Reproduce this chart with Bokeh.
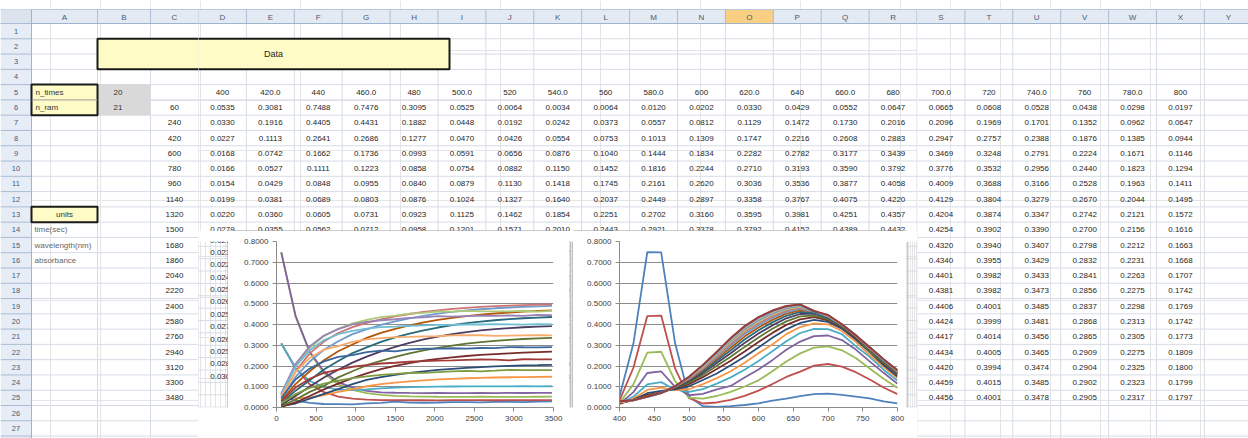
from bokeh.plotting import figure
from bokeh.layouts import column, row
from bokeh.models import Range1d, FixedTicker, NumeralTickFormatter
from bokeh.core.properties import value
from bokeh.embed import file_html
from bokeh.resources import INLINE

# ---------------- data (read from the sheet / charts) ----------------
times = [60, 240, 420, 600, 780, 960, 1140, 1320, 1500, 1680, 1860, 2040,
         2220, 2400, 2580, 2760, 2940, 3120, 3300, 3480]
wavelengths = [400, 420, 440, 460, 480, 500, 520, 540, 560, 580, 600,
               620, 640, 660, 680, 700, 720, 740, 760, 780, 800]
wavelength_labels = ["400", "420.0", "440", "460.0", "480", "500.0", "520", "540.0",
                     "560", "580.0", "600", "620.0", "640", "660.0", "680", "700.0",
                     "720", "740.0", "760", "780.0", "800"]

a400 = [0.0535, 0.0330, 0.0227, 0.0168, 0.0166, 0.0154, 0.0199, 0.0220, 0.0279, 0.0236,
        0.0228, 0.0241, 0.0257, 0.0262, 0.0251, 0.0274, 0.0268, 0.0259, 0.0281, 0.0302]
a420 = [0.3081, 0.1916, 0.1113, 0.0742, 0.0527, 0.0429, 0.0381, 0.0360, 0.0355, 0.0349,
        0.0352, 0.0347, 0.0355, 0.0351, 0.0358, 0.0349, 0.0356, 0.0353, 0.0360, 0.0357]
a440 = [0.7488, 0.4405, 0.2641, 0.1662, 0.1111, 0.0848, 0.0689, 0.0605, 0.0562, 0.0538,
        0.0527, 0.0519, 0.0515, 0.0512, 0.0518, 0.0510, 0.0516, 0.0513, 0.0519, 0.0521]
a460 = [0.7476, 0.4431, 0.2686, 0.1736, 0.1223, 0.0955, 0.0803, 0.0731, 0.0712, 0.0701,
        0.0694, 0.0699, 0.0692, 0.0697, 0.0702, 0.0695, 0.0701, 0.0698, 0.0704, 0.0700]
a480 = [0.3095, 0.1882, 0.1277, 0.0993, 0.0858, 0.0840, 0.0876, 0.0923, 0.0958, 0.0981,
        0.0994, 0.1005, 0.1012, 0.1019, 0.1015, 0.1022, 0.1018, 0.1025, 0.1021, 0.1024]
a500 = [0.0525, 0.0448, 0.0470, 0.0591, 0.0754, 0.0879, 0.1024, 0.1125, 0.1201, 0.1262,
        0.1310, 0.1354, 0.1382, 0.1410, 0.1427, 0.1445, 0.1458, 0.1466, 0.1475, 0.1481]
a520 = [0.0064, 0.0192, 0.0426, 0.0656, 0.0882, 0.1130, 0.1327, 0.1462, 0.1571, 0.1668,
        0.1745, 0.1812, 0.1866, 0.1913, 0.1950, 0.1981, 0.2006, 0.2027, 0.2041, 0.2056]
a540 = [0.0034, 0.0242, 0.0554, 0.0876, 0.1150, 0.1418, 0.1640, 0.1854, 0.2010, 0.2142,
        0.2254, 0.2342, 0.2418, 0.2481, 0.2534, 0.2577, 0.2612, 0.2641, 0.2665, 0.2688]
a560 = [0.0064, 0.0373, 0.0753, 0.1040, 0.1452, 0.1745, 0.2037, 0.2251, 0.2443, 0.2610,
        0.2752, 0.2877, 0.2985, 0.3074, 0.3150, 0.3212, 0.3263, 0.3301, 0.3332, 0.3356]
a580 = [0.0120, 0.0557, 0.1013, 0.1444, 0.1816, 0.2161, 0.2449, 0.2702, 0.2921, 0.3113,
        0.3278, 0.3418, 0.3536, 0.3634, 0.3713, 0.3777, 0.3828, 0.3868, 0.3899, 0.3925]
a600 = [0.0202, 0.0812, 0.1309, 0.1834, 0.2244, 0.2620, 0.2897, 0.3160, 0.3378, 0.3565,
        0.3722, 0.3855, 0.3968, 0.4062, 0.4139, 0.4204, 0.4257, 0.4301, 0.4335, 0.4362]
a620 = [0.0330, 0.1129, 0.1747, 0.2282, 0.2710, 0.3036, 0.3358, 0.3595, 0.3792, 0.3958,
        0.4101, 0.4221, 0.4322, 0.4405, 0.4474, 0.4531, 0.4578, 0.4617, 0.4650, 0.4676]
a640 = [0.0429, 0.1472, 0.2216, 0.2782, 0.3193, 0.3536, 0.3767, 0.3981, 0.4152, 0.4298,
        0.4420, 0.4522, 0.4606, 0.4676, 0.4734, 0.4782, 0.4820, 0.4851, 0.4876, 0.4895]
a660 = [0.0552, 0.1730, 0.2608, 0.3177, 0.3590, 0.3877, 0.4075, 0.4251, 0.4389, 0.4506,
        0.4603, 0.4683, 0.4749, 0.4803, 0.4848, 0.4884, 0.4913, 0.4937, 0.4956, 0.4971]
a680 = [0.0647, 0.2016, 0.2883, 0.3439, 0.3792, 0.4058, 0.4220, 0.4357, 0.4432, 0.4527,
        0.4563, 0.4627, 0.4623, 0.4658, 0.4630, 0.4634, 0.4629, 0.4663, 0.4622, 0.4654]
a700 = [0.0665, 0.2096, 0.2947, 0.3469, 0.3776, 0.4009, 0.4129, 0.4204, 0.4254, 0.4320,
        0.4340, 0.4401, 0.4381, 0.4406, 0.4424, 0.4417, 0.4434, 0.4420, 0.4459, 0.4456]
a720 = [0.0608, 0.1969, 0.2757, 0.3248, 0.3532, 0.3688, 0.3804, 0.3874, 0.3902, 0.3940,
        0.3955, 0.3982, 0.3982, 0.4001, 0.3999, 0.4014, 0.4005, 0.3994, 0.4015, 0.4001]
a740 = [0.0528, 0.1701, 0.2388, 0.2791, 0.2956, 0.3166, 0.3279, 0.3347, 0.3390, 0.3407,
        0.3429, 0.3433, 0.3473, 0.3485, 0.3481, 0.3456, 0.3465, 0.3474, 0.3485, 0.3478]
a760 = [0.0438, 0.1352, 0.1876, 0.2224, 0.2440, 0.2528, 0.2670, 0.2742, 0.2700, 0.2798,
        0.2832, 0.2841, 0.2856, 0.2837, 0.2868, 0.2865, 0.2909, 0.2904, 0.2902, 0.2905]
a780 = [0.0298, 0.0962, 0.1385, 0.1671, 0.1823, 0.1963, 0.2044, 0.2121, 0.2156, 0.2212,
        0.2231, 0.2263, 0.2275, 0.2298, 0.2313, 0.2305, 0.2275, 0.2325, 0.2323, 0.2317]
a800 = [0.0197, 0.0647, 0.0944, 0.1146, 0.1294, 0.1411, 0.1495, 0.1572, 0.1616, 0.1663,
        0.1668, 0.1707, 0.1742, 0.1769, 0.1742, 0.1773, 0.1809, 0.1800, 0.1799, 0.1797]

columns_by_wl = [a400, a420, a440, a460, a480, a500, a520, a540, a560, a580, a600,
                 a620, a640, a660, a680, a700, a720, a740, a760, a780, a800]

unit_labels = ["time(sec)", "wavelength(nm)", "absorbance"]
y_ticks = [0.0, 0.1, 0.2, 0.3, 0.4, 0.5, 0.6, 0.7, 0.8]
t_ticks = [0, 500, 1000, 1500, 2000, 2500, 3000, 3500]
wl_ticks = [400, 450, 500, 550, 600, 650, 700, 750, 800]

n_times = len(times)
n_ram = len(wavelengths)

# Excel 2007 series colours
palette = ["#4F81BD", "#C0504D", "#9BBB59", "#8064A2", "#4BACC6", "#F79646",
           "#2C4D75", "#772C2A", "#5F7530", "#4D3B62", "#276A7C", "#B65708",
           "#729ACA", "#CD7371", "#AFC97A", "#9983B5", "#6FBDD1", "#F9AB6B",
           "#3A679C", "#9F3B38", "#7E9D40"]

FONT_NAME = "Liberation Sans"
FONT = value(FONT_NAME)

# ---------------- sheet geometry (screenshot pixels) ----------------
W, H = 1248, 438
HDR_TOP, HDR_BOT = 9.0, 23.0
ROW_H = 15.28
ROWHDR_W = 31.0
COL_W = 47.9
D_LEFT = 198.0
col_edges = [ROWHDR_W, 97.0, 150.0, D_LEFT] + [D_LEFT + COL_W * i for i in range(1, 24)]
col_letters = [chr(ord("A") + i) for i in range(len(col_edges) - 1)]
col_mid = [(col_edges[i] + col_edges[i + 1]) / 2 for i in range(len(col_edges) - 1)]
N_ROWS = 29
DATA_BOX_R = 449.0

C1_L, C1_R, C2_L, C2_R = 228, 569, 573, 906
C_TOP, C_BOT = 231, 436
M_L, M_R = int(D_LEFT), 917

NUM_SIZE = "8px"
NUM_COLOR = "#262626"


def row_top(k):
    return HDR_BOT + (k - 1) * ROW_H


def row_mid(k):
    return row_top(k) + ROW_H / 2


def sheet_texts():
    t = []  # x, y, text, align, color, size
    for i, L in enumerate(col_letters):
        t.append((col_mid[i], (HDR_TOP + HDR_BOT) / 2 + 0.5, L, "center", "#4a5a72", "8px"))
    for k in range(1, N_ROWS):
        t.append((ROWHDR_W / 2, row_mid(k), str(k), "center", "#4a5a72", "7.5px"))
    t.append(((col_edges[1] + DATA_BOX_R) / 2, row_top(3), "Data", "center", "#262626", "9px"))
    t.append((col_edges[0] + 4, row_mid(5), "n_times", "left", "#333333", "8px"))
    t.append((col_edges[0] + 4, row_mid(6), "n_ram", "left", "#333333", "8px"))
    t.append((col_edges[1] + 16, row_mid(5), str(n_times), "left", "#333333", "8px"))
    t.append((col_edges[1] + 16, row_mid(6), str(n_ram), "left", "#333333", "8px"))
    t.append((col_mid[0], row_mid(13), "units", "center", "#333333", "8px"))
    for j, s in enumerate(unit_labels):
        t.append((col_edges[0] + 3, row_mid(14 + j), s, "left", "#666666", "8px"))
    for j, s in enumerate(wavelength_labels):
        t.append((col_mid[3 + j], row_mid(5), s, "center", NUM_COLOR, NUM_SIZE))
    for i, tm in enumerate(times):
        t.append((col_mid[2], row_mid(6 + i), str(tm), "center", NUM_COLOR, NUM_SIZE))
        for j, colv in enumerate(columns_by_wl):
            t.append((col_mid[3 + j], row_mid(6 + i), f"{colv[i]:.4f}", "center", NUM_COLOR, NUM_SIZE))
    return t


TEXTS = sheet_texts()
BORDER = "#9a9a9a"


def text_box(t):
    size = float(t[5].replace("px", ""))
    w = len(t[2]) * 0.56 * size
    x0 = t[0] - w / 2 if t[3] == "center" else t[0]
    return x0, x0 + w, t[1] - size * 0.5, t[1] + size * 0.5


def visible_in(t, xa, xb, ya, yb):
    x0, x1, y0, y1 = text_box(t)
    return x1 > xa and x0 < xb and y1 > ya and y0 < yb


def sheet(xa, xb, ya, yb, borders_v=(), border_h=None):
    p = figure(width=int(round(xb - xa)), height=int(round(yb - ya)),
               x_range=Range1d(xa, xb), y_range=Range1d(yb, ya),
               output_backend="svg", toolbar_location=None,
               x_axis_location=None, y_axis_location=None,
               min_border_left=0, min_border_right=0, min_border_top=0, min_border_bottom=0)
    p.outline_line_color = None
    p.background_fill_color = "white"
    p.border_fill_color = "white"
    ys = [row_top(k) for k in range(1, N_ROWS + 1)]
    p.segment(x0=[ROWHDR_W] * len(ys), x1=[W + 2] * len(ys), y0=ys, y1=ys,
              line_color="#d6dce6", line_width=1)
    xs = col_edges[1:]
    p.segment(x0=xs, x1=xs, y0=[HDR_BOT] * len(xs), y1=[H + 10] * len(xs),
              line_color="#d6dce6", line_width=1)
    p.quad(left=[ROWHDR_W], right=[W + 2], top=[HDR_TOP], bottom=[HDR_BOT],
           fill_color="#e3eaf4", line_color=None)
    o = col_letters.index("O")
    p.quad(left=[col_edges[o]], right=[col_edges[o + 1]], top=[HDR_TOP], bottom=[HDR_BOT],
           fill_color="#f8cf83", line_color=None)
    p.segment(x0=xs, x1=xs, y0=[HDR_TOP] * len(xs), y1=[HDR_BOT] * len(xs),
              line_color="#a9bcd3", line_width=1)
    p.segment(x0=[0], x1=[W + 2], y0=[HDR_BOT], y1=[HDR_BOT], line_color="#9eb3cc", line_width=1)
    p.segment(x0=[0], x1=[W + 2], y0=[HDR_TOP], y1=[HDR_TOP], line_color="#b8c8dc", line_width=1)
    p.quad(left=[0], right=[ROWHDR_W], top=[HDR_BOT], bottom=[H + 10],
           fill_color="#e6edf7", line_color=None)
    p.quad(left=[0], right=[ROWHDR_W], top=[HDR_TOP], bottom=[HDR_BOT],
           fill_color="#dbe3ee", line_color=None)
    p.segment(x0=[0] * len(ys), x1=[ROWHDR_W] * len(ys), y0=ys, y1=ys,
              line_color="#a9bcd3", line_width=1)
    p.segment(x0=[ROWHDR_W], x1=[ROWHDR_W], y0=[HDR_TOP], y1=[H + 10], line_color="#9eb3cc", line_width=1)
    p.quad(left=[col_edges[1]], right=[DATA_BOX_R], top=[row_top(2)], bottom=[row_top(4)],
           fill_color="#fffbc6", line_color="#1a1a1a", line_width=2)
    p.quad(left=[col_edges[1]], right=[col_edges[2]], top=[row_top(5)], bottom=[row_top(7)],
           fill_color="#d9d9d9", line_color=None)
    p.quad(left=[col_edges[0]], right=[col_edges[1]], top=[row_top(5)], bottom=[row_top(7)],
           fill_color="#fffbc6", line_color="#1a1a1a", line_width=2)
    p.segment(x0=[col_edges[0]], x1=[col_edges[1]], y0=[row_top(6)], y1=[row_top(6)],
              line_color="#9a9a9a", line_width=1)
    p.quad(left=[col_edges[0]], right=[col_edges[1]], top=[row_top(13)], bottom=[row_top(14)],
           fill_color="#fffbc6", line_color="#1a1a1a", line_width=2)
    sel = [t for t in TEXTS if visible_in(t, xa, xb, ya, yb)]
    for align in ("left", "center"):
        for size in ("7.5px", "8px", "9px"):
            ss = [t for t in sel if t[3] == align and t[5] == size]
            if not ss:
                continue
            p.text(x=[t[0] for t in ss], y=[t[1] for t in ss], text=[t[2] for t in ss],
                   text_color=[t[4] for t in ss], text_align=align, text_baseline="middle",
                   text_font=FONT, text_font_size=size)
    for bx in borders_v:
        p.segment(x0=[bx], x1=[bx], y0=[C_TOP], y1=[C_BOT], line_color=BORDER, line_width=1)
    if border_h is not None:
        p.segment(x0=[C1_L, C2_L], x1=[C1_R, C2_R], y0=[border_h, border_h], y1=[border_h, border_h],
                  line_color=BORDER, line_width=1)
    return p


def chart(width, xr, xticks, bl, br):
    p = figure(width=width, height=C_BOT - C_TOP, x_range=Range1d(*xr), y_range=Range1d(0, 0.8),
               output_backend="svg", toolbar_location=None,
               min_border_left=bl, min_border_right=br, min_border_top=10, min_border_bottom=29)
    p.background_fill_color = "white"
    p.border_fill_color = "white"
    p.outline_line_color = None
    p.xgrid.visible = False
    p.yaxis.ticker = FixedTicker(ticks=y_ticks)
    p.ygrid.ticker = FixedTicker(ticks=y_ticks)
    p.ygrid.grid_line_color = "#8c8c8c"
    p.ygrid.grid_line_width = 1
    p.yaxis.formatter = NumeralTickFormatter(format="0.0000")
    p.xaxis.ticker = FixedTicker(ticks=xticks)
    for ax in (p.xaxis[0], p.yaxis[0]):
        ax.axis_line_color = "#8c8c8c"
        ax.major_tick_line_color = "#8c8c8c"
        ax.minor_tick_line_color = None
        ax.major_tick_out = 4
        ax.major_tick_in = 0
        ax.major_label_text_font = FONT_NAME
        ax.major_label_text_font_size = "8px"
        ax.major_label_text_color = "#404040"
        ax.major_label_standoff = 4
    return p


p1 = chart(C1_R - C1_L, (0, 3500), t_ticks, 48, 16)
for j, colv in enumerate(columns_by_wl):
    p1.line(times, colv, line_color=palette[j % len(palette)], line_width=1.8)

p2 = chart(C2_R - C2_L, (400, 800), wl_ticks, 46, 9)
for i in range(n_times):
    spectrum = [colv[i] for colv in columns_by_wl]
    p2.line(wavelengths, spectrum, line_color=palette[i % len(palette)], line_width=1.8)

left_piece = sheet(0, M_L, 0, H)
mid_top = sheet(M_L, M_R, 0, C_TOP, border_h=C_TOP - 0.5)
d_strip = sheet(M_L, C1_L, C_TOP, C_BOT, borders_v=(C1_L - 0.5,))
gap = sheet(C1_R, C2_L, C_TOP, C_BOT, borders_v=(C1_R + 0.5, C2_L - 0.5))
r_strip = sheet(C2_R, M_R, C_TOP, C_BOT, borders_v=(C2_R + 0.5,))
mid_bottom = sheet(M_L, M_R, C_BOT, H)
mid_bottom.segment(x0=[C1_L, C2_L], x1=[C1_R, C2_R], y0=[C_BOT + 0.5] * 2, y1=[C_BOT + 0.5] * 2,
                   line_color=BORDER, line_width=1)
right_piece = sheet(M_R, W, 0, H)

middle = column(mid_top, row(d_strip, p1, gap, p2, r_strip, spacing=0), mid_bottom, spacing=0)
layout = row(left_piece, middle, right_piece, spacing=0)

open("out.html", "w").write(file_html(layout, INLINE))
